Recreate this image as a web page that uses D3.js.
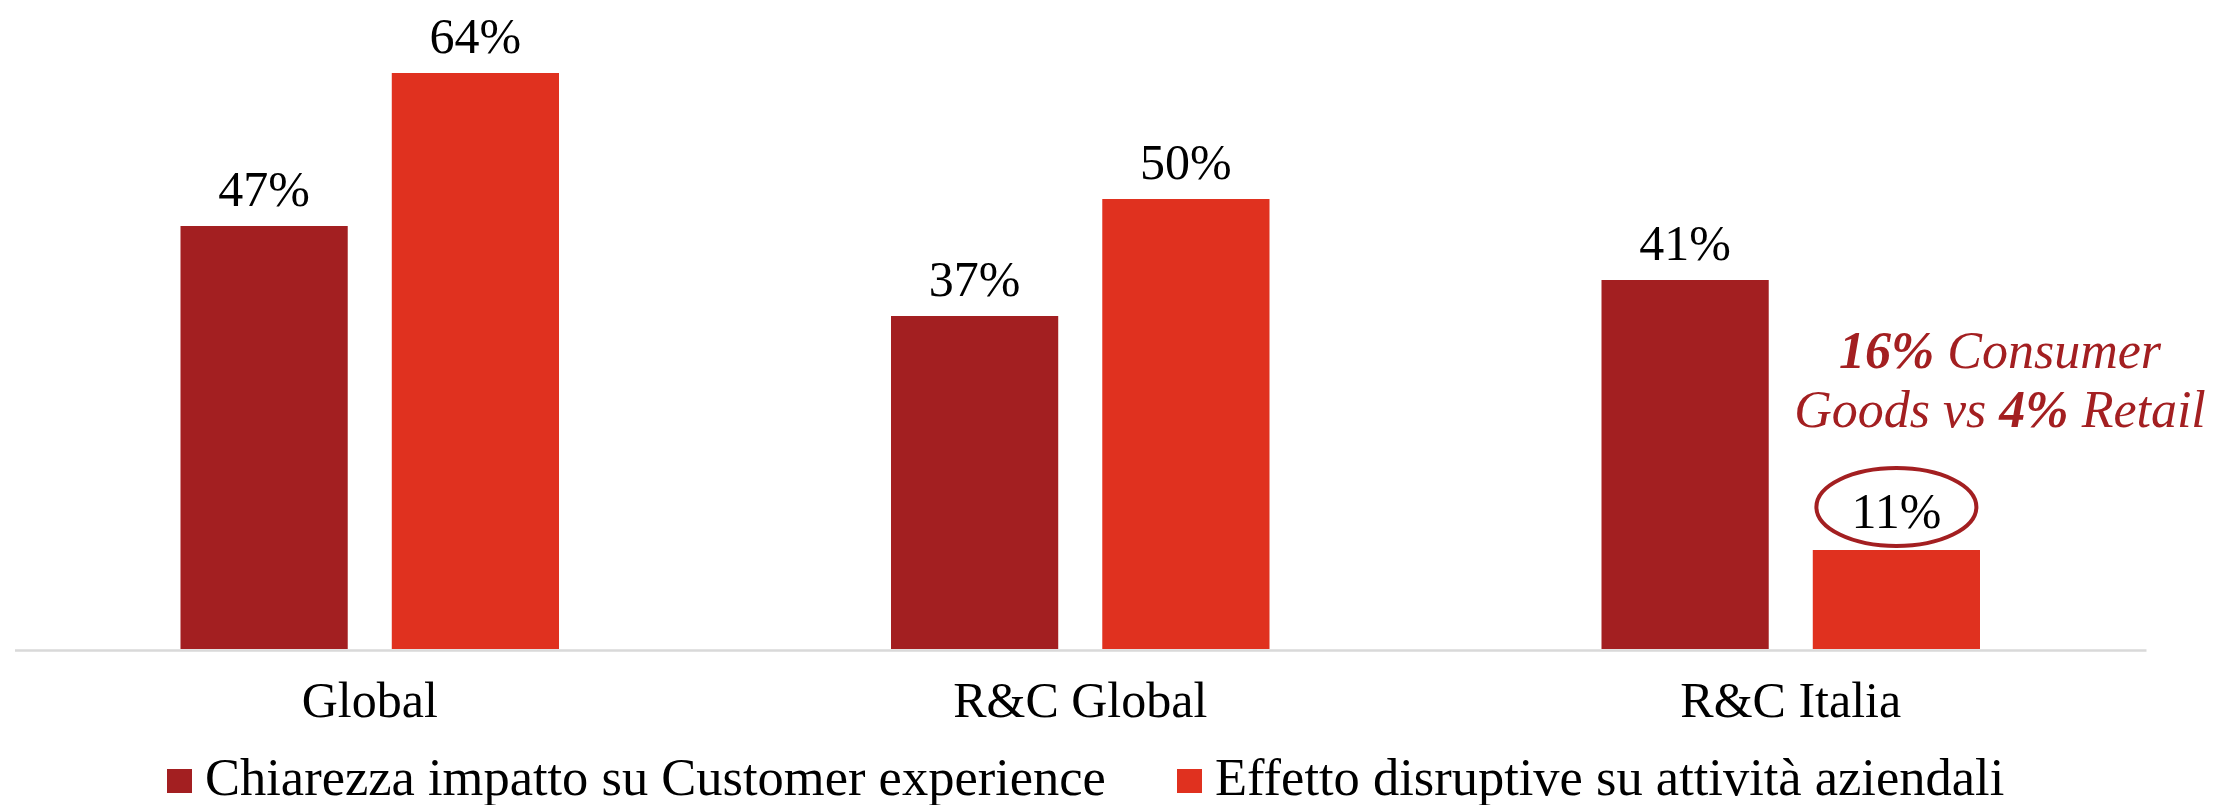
<!DOCTYPE html>
<html>
<head>
<meta charset="utf-8">
<script src="https://cdn.jsdelivr.net/npm/d3@7"></script>
<style>
  html, body { margin: 0; padding: 0; background: #ffffff; }
  svg { display: block; }
  text { font-family: "Liberation Serif", "Times New Roman", serif; }
</style>
</head>
<body>
<svg id="chart" width="2217" height="805"></svg>
<script>
// ---- Data ----
const categories = ["Global", "R&C Global", "R&C Italia"];
const seriesNames = ["Chiarezza impatto su Customer experience", "Effetto disruptive su attività aziendali"];
const chiarezzaValues = [47, 37, 41];
const effettoValues = [64, 50, 11];
const seriesColors = ["#a31f21", "#e0311f"];
const annotationLine1 = [{ t: "16%", bold: true }, { t: " Consumer", bold: false }];
const annotationLine2 = [{ t: "Goods vs ", bold: false }, { t: "4%", bold: true }, { t: " Retail", bold: false }];
const highlightCategory = "R&C Italia";

// ---- Layout ----
const svg = d3.select("#chart");
const baseY = 649;
const x0 = d3.scaleBand().domain(categories).range([14.5, 2146]).padding(0);
const x1 = d3.scaleBand().domain([0, 1]).range([166, 544.5]).paddingInner(0.2085).paddingOuter(0);
const y = d3.scaleLinear().domain([0, 70]).range([baseY, baseY - 70 * 9.0]);

const rows = categories.map((c, i) => ({ cat: c, vals: [chiarezzaValues[i], effettoValues[i]] }));

// Bars
const groups = svg.append("g").selectAll("g").data(rows).join("g")
  .attr("transform", d => `translate(${x0(d.cat)},0)`);

groups.selectAll("rect").data(d => d.vals.map((v, s) => ({ v, s }))).join("rect")
  .attr("x", d => x1(d.s))
  .attr("width", x1.bandwidth())
  .attr("y", d => y(d.v))
  .attr("height", d => baseY - y(d.v))
  .attr("fill", d => seriesColors[d.s]);

// Value labels
groups.selectAll("text.val").data(d => d.vals.map((v, s) => ({ v, s, cat: d.cat }))).join("text")
  .attr("class", "val")
  .attr("x", d => x1(d.s) + x1.bandwidth() / 2)
  .attr("y", d => y(d.v) - ((d.cat === highlightCategory && d.s === 1) ? 22 : 20))
  .attr("text-anchor", "middle")
  .attr("font-size", 50)
  .attr("fill", "#000")
  .text(d => d.v + "%");

// Axis
const axis = svg.append("g")
  .attr("transform", `translate(0,${baseY + 1})`)
  .call(d3.axisBottom(x0).tickSize(0).tickSizeOuter(0));
axis.select(".domain").attr("stroke", "#d9d9d9").attr("stroke-width", 2.5);
axis.selectAll(".tick text")
  .attr("y", 67).attr("dy", 0)
  .attr("font-size", 50)
  .attr("font-family", "Liberation Serif, serif")
  .attr("fill", "#000");

// Highlight ellipse around Italia red bar label
const hx = x0(highlightCategory) + x1(1) + x1.bandwidth() / 2;
const hv = effettoValues[categories.indexOf(highlightCategory)];
svg.append("ellipse")
  .attr("cx", hx)
  .attr("cy", y(hv) - 43)
  .attr("rx", 80)
  .attr("ry", 39)
  .attr("fill", "none")
  .attr("stroke", seriesColors[0])
  .attr("stroke-width", 4);

// Annotation text
const ann = svg.append("text")
  .attr("text-anchor", "middle")
  .attr("font-size", 52)
  .attr("font-style", "italic")
  .attr("fill", seriesColors[0]);
const annX = 2000;
const l1 = ann.append("tspan").attr("x", annX).attr("y", 368);
annotationLine1.forEach(p => l1.append("tspan").attr("font-weight", p.bold ? "bold" : "normal").text(p.t));
const l2 = ann.append("tspan").attr("x", annX).attr("y", 427);
annotationLine2.forEach(p => l2.append("tspan").attr("font-weight", p.bold ? "bold" : "normal").text(p.t));

// Legend
const legendX = [167, 1177];
const legend = svg.append("g").selectAll("g").data(seriesNames).join("g")
  .attr("transform", (d, i) => `translate(${legendX[i]},0)`);
legend.append("rect")
  .attr("x", 0).attr("y", 769).attr("width", 25).attr("height", 24)
  .attr("fill", (d, i) => seriesColors[i]);
legend.append("text")
  .attr("x", 38).attr("y", 795)
  .attr("font-size", 52.5)
  .attr("fill", "#000")
  .text(d => d);
</script>
</body>
</html>
